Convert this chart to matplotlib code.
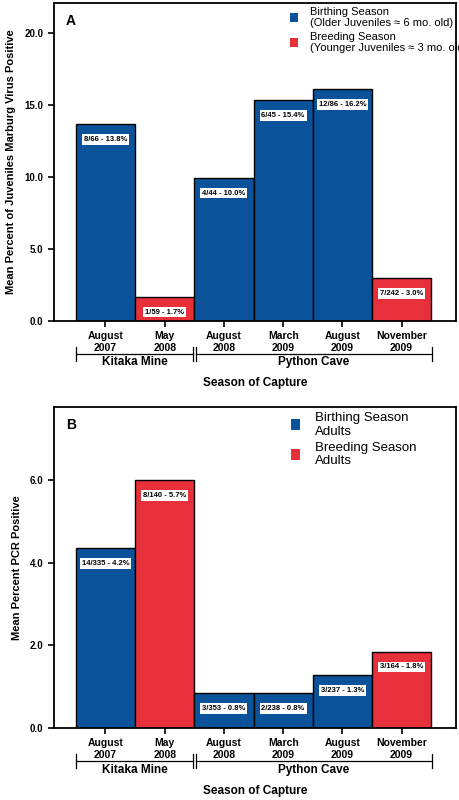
import matplotlib
matplotlib.use("Agg")
import matplotlib.pyplot as plt
from matplotlib.patches import Patch

plt.rcParams['font.family'] = ['Liberation Sans', 'DejaVu Sans']

seasons = ["August\n2007", "May\n2008", "August\n2008", "March\n2009", "August\n2009", "November\n2009"]
a_vals = [13.7, 1.67, 9.95, 15.37, 16.13, 2.95]
a_labels = ["8/66 - 13.8%", "1/59 - 1.7%", "4/44 - 10.0%", "6/45 - 15.4%", "12/86 - 16.2%", "7/242 - 3.0%"]
a_season = ["birth", "breed", "birth", "birth", "birth", "breed"]
b_vals = [4.36, 6.0, 0.85, 0.85, 1.28, 1.85]
b_labels = ["14/335 - 4.2%", "8/140 - 5.7%", "3/353 - 0.8%", "2/238 - 0.8%", "3/237 - 1.3%", "3/164 - 1.8%"]
b_season = ["birth", "breed", "birth", "birth", "birth", "breed"]
sites = ["Kitaka Mine", "Python Cave"]

BLUE = "#0a5299"; RED = "#e8303a"
col = {"birth": BLUE, "breed": RED}
pos = [0, 1, 2, 3, 4, 5]

fig = plt.figure(figsize=(4.59, 8), dpi=100)
axA = fig.add_axes([0.1176, 0.599, 0.876, 0.397])
axB = fig.add_axes([0.1176, 0.09, 0.876, 0.401])

def panel(ax, vals, labels, seasons_c, ymax, yticks, ylabel, letter, leg, legfs):
    for p, v, l, s in zip(pos, vals, labels, seasons_c):
        ax.bar(p, v, width=1.0, align="edge", color=col[s], edgecolor="black", linewidth=1.0)
        ax.annotate(l, (p + 0.5, v), xytext=(0, -11), textcoords="offset points",
                    ha="center", va="center", fontsize=5.5, fontweight="bold",
                    bbox=dict(facecolor="white", edgecolor="none", pad=1.3))
    ax.set_xlim(-0.37, 6.42)
    ax.set_ylim(0, ymax)
    for sp in ax.spines.values():
        sp.set_linewidth(1.3)
    ax.set_yticks(yticks)
    ax.set_yticklabels([f"{t:.1f}" for t in yticks], fontsize=7, fontweight="bold")
    ax.set_xticks([p + 0.5 for p in pos])
    ax.set_xticklabels(seasons, fontsize=7.5, fontweight="bold")
    ax.tick_params(width=1.2, length=4)
    ax.set_ylabel(ylabel, fontsize=8, fontweight="bold", labelpad=6)
    ax.text(0.03, 0.965, letter, transform=ax.transAxes, fontsize=10, fontweight="bold", va="top")
    handles = [Patch(facecolor=BLUE, edgecolor="none"), Patch(facecolor=RED, edgecolor="none")]
    ax.legend(handles, leg, loc="upper left", frameon=False, fontsize=legfs,
              handlelength=0.7, handleheight=0.9, labelspacing=0.3, handletextpad=1.1,
              bbox_to_anchor=(0.57, 1.01), borderaxespad=0.2)
    trans = ax.get_xaxis_transform()
    yb = -0.104
    for x0, x1, name in [(0, 1.98, sites[0]), (2.02, 6.02, sites[1])]:
        ax.plot([x0, x1], [yb, yb], color="black", lw=0.9, transform=trans, clip_on=False)
        for x in (x0, x1):
            ax.plot([x, x], [yb - 0.022, yb + 0.022], color="black", lw=0.9, transform=trans, clip_on=False)
        ax.text((x0 + x1) / 2, yb - 0.026, name, ha="center", va="center", fontsize=8.5,
                fontweight="bold", transform=trans)
    ax.text(0.5, -0.195, "Season of Capture", ha="center", va="center", fontsize=8.5,
            fontweight="bold", transform=ax.transAxes)

panel(axA, a_vals, a_labels, a_season, 22.1, [0, 5, 10, 15, 20],
      "Mean Percent of Juveniles Marburg Virus Positive", "A",
      ["Birthing Season\n(Older Juveniles ≈ 6 mo. old)", "Breeding Season\n(Younger Juveniles ≈ 3 mo. old)"], 8)
panel(axB, b_vals, b_labels, b_season, 7.77, [0, 2, 4, 6],
      "Mean Percent PCR Positive", "B",
      ["Birthing Season\nAdults", "Breeding Season\nAdults"], 9.5)

fig.savefig("out.png", dpi=100)
